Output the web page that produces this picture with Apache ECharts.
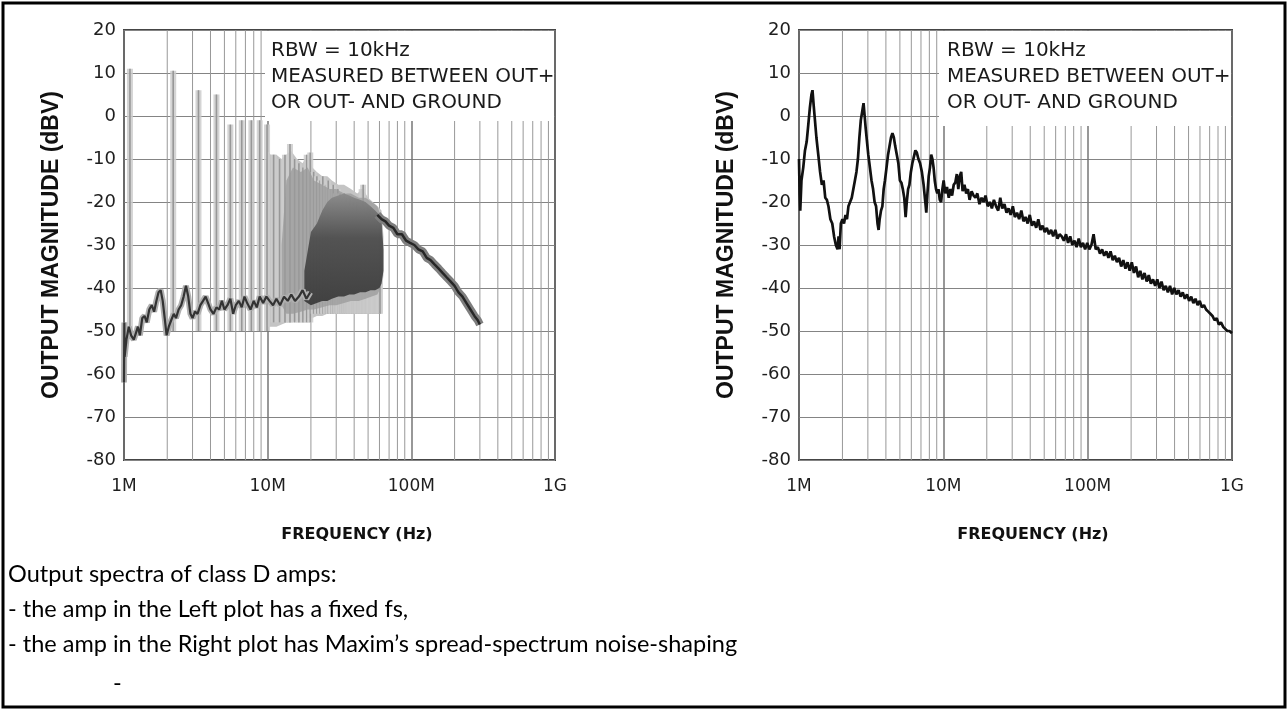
<!DOCTYPE html>
<html>
<head>
<meta charset="utf-8">
<script src="https://cdn.jsdelivr.net/npm/echarts@6.0.0/dist/echarts.min.js"></script>
<style>
  html, body { margin: 0; padding: 0; background: #fff; }
  #main { width: 1288px; height: 711px; }
</style>
</head>
<body>
<div id="main"></div>
<script>
// ---- axis ticks / labels ----
const freqTicks = [1, 10, 100, 1000];            // MHz
const freqTickLabels = ['1M', '10M', '100M', '1G'];
const minorGridMHz = [2, 3, 4, 5, 6, 7, 8, 9, 20, 30, 40, 50, 60, 70, 80, 90,
                      200, 300, 400, 500, 600, 700, 800, 900];
const dbMin = -80, dbMax = 20;

// ---- left plot (fixed fs): harmonics [MHz, peak dBV, foot dBV] ----
const harmonics = [
  [1.1, 11, -50], [2.2, 10.5, -50], [3.3, 6, -50], [4.4, 5, -50], [5.5, -2, -50],
  [6.6, -1, -50], [7.7, -1, -50], [8.8, -1, -50], [9.9, -2, -50],
  [11, -9, -48], [12.1, -10, -48], [13.2, -9, -48], [14.3, -6.5, -48], [15.4, -10, -48],
  [16.5, -11, -48], [17.6, -12, -48], [18.7, -9, -48], [19.8, -8.5, -48],
  [20.9, -13, -46], [22, -14, -46], [23.1, -15, -46], [24.2, -14, -46], [25.3, -16, -46],
  [26.4, -15, -46], [27.5, -17, -46], [28.6, -16, -46], [29.7, -18, -46], [30.8, -17, -46],
  [31.9, -18, -46], [33, -19, -46], [34.1, -18, -46], [35.2, -19, -46], [36.3, -20, -46],
  [37.4, -19, -46], [38.5, -21, -46], [39.6, -20, -46], [40.7, -21, -46], [41.8, -20, -46],
  [42.9, -22, -46], [44, -21, -46], [45.1, -17, -46], [46.2, -16, -46], [47.3, -21, -46],
  [48.4, -22, -46], [49.5, -21, -46], [50.6, -23, -46], [51.7, -22, -46], [52.8, -23, -46],
  [53.9, -24, -46], [55, -23, -46], [56.1, -24, -46], [57.2, -25, -46], [58.3, -24, -46],
  [59.4, -26, -46], [60.5, -25, -46]
];

// shaded masses [MHz, top dBV, bottom dBV]
const lightMass = [
  [9.7, -22, -47], [9.9, -8, -49], [10.5, -9, -49], [11.5, -9, -49], [12.5, -10, -48.5],
  [13.5, -9, -48], [14.5, -8, -48], [16, -10, -47.5], [17.5, -11, -47.5], [19, -9, -47],
  [20.5, -12, -47], [22, -13, -46.5], [24, -14, -46.5], [26, -14, -46], [28, -15, -46],
  [31, -16, -45.5], [34, -16, -45.5], [38, -17, -45], [42, -18, -45], [46, -17, -44.5],
  [50, -19, -44], [54, -20, -43.5], [58, -21, -43], [62, -22, -41], [64, -28, -37]
];
const midMass = [
  [12.5, -30, -44], [13.5, -15, -46], [15, -12, -46], [17, -13, -45.5], [19, -12, -45],
  [21, -15, -45], [24, -16, -44.5], [27, -17, -44], [30, -17, -44], [34, -18, -43.5],
  [38, -18, -43], [43, -19, -43], [48, -19, -42.5], [53, -20, -42], [58, -21, -41.5],
  [61, -23, -40], [63, -30, -37]
];
const darkMass = [
  [18, -36, -43], [20, -27, -44], [22, -25, -43.5], [24, -22, -43], [26, -20, -43],
  [28, -19, -42.5], [31, -18.5, -42], [34, -18, -42], [37, -18.5, -41.5], [40, -19, -41.5],
  [44, -19.5, -41], [48, -20, -41], [52, -21, -40.5], [56, -22, -40.5], [60, -23, -40],
  [62, -24, -39], [64, -31, -36]
];

// noise floor under the harmonics [MHz, dBV]
const noiseFloor = [
  [1.0, -62], [1.005, -48], [1.01, -56], [1.04, -52], [1.08, -49], [1.12, -51], [1.17, -52],
  [1.21, -50.5], [1.25, -49], [1.29, -51], [1.34, -47], [1.39, -46.5], [1.44, -48], [1.5, -45],
  [1.56, -44], [1.62, -45.5], [1.68, -43], [1.74, -41], [1.8, -40.5], [1.86, -43], [1.92, -47],
  [1.98, -51], [2.05, -49], [2.13, -47.5], [2.22, -46], [2.3, -47], [2.4, -45], [2.5, -44],
  [2.6, -42], [2.7, -39.5], [2.8, -42], [2.9, -46], [3.0, -47], [3.12, -45.5], [3.25, -46],
  [3.4, -44], [3.55, -43], [3.7, -42], [3.85, -43.5], [4.0, -45], [4.2, -46], [4.4, -44.5],
  [4.6, -45], [4.8, -43], [5.0, -45], [5.25, -44], [5.5, -42.5], [5.75, -46], [6.0, -44],
  [6.3, -43], [6.6, -44.5], [6.9, -42], [7.2, -43.5], [7.6, -45], [8.0, -43], [8.4, -44.5],
  [8.8, -42], [9.3, -43.5], [9.8, -42], [10.3, -43], [10.9, -44], [11.5, -42.5], [12.2, -44],
  [13.0, -42], [13.8, -43], [14.6, -41.5], [15.5, -43], [16.5, -42], [17.5, -40.5], [18.6, -42.5],
  [19.8, -41]
];

// roll-off above the switching harmonics [MHz, dBV]
const hfBand = [
  [58, -23], [62, -24], [66, -24.5], [70, -25.5], [75, -26], [80, -27.5], [86, -27.5],
  [92, -29], [98, -29.5], [105, -30], [112, -31], [120, -31.5], [128, -33], [136, -33.5],
  [145, -34.5], [155, -35.5], [165, -36.5], [176, -37.5], [188, -38.5], [200, -39.5],
  [213, -41], [227, -42], [242, -43.5], [258, -45], [275, -46.5], [290, -47.5], [300, -48.5]
];

// ---- right plot (spread spectrum) [MHz, dBV] ----
const spreadTrace = [
  [1.00, -10], [1.01, -18], [1.02, -22], [1.04, -15], [1.07, -12], [1.10, -8], [1.13, -6],
  [1.16, -2], [1.19, 2], [1.22, 5], [1.24, 6], [1.26, 3], [1.29, -1], [1.32, -5], [1.36, -9],
  [1.40, -13], [1.44, -16], [1.48, -15], [1.52, -19], [1.56, -19.5], [1.60, -21], [1.65, -24],
  [1.70, -25], [1.75, -28], [1.80, -30], [1.85, -31], [1.88, -28], [1.91, -31], [1.95, -25],
  [2.00, -24], [2.05, -25], [2.10, -23], [2.15, -24], [2.20, -21], [2.26, -21], [2.32, -19],
  [2.38, -17], [2.44, -15], [2.50, -13], [2.56, -10], [2.62, -5], [2.68, -1], [2.74, 1],
  [2.80, 3], [2.85, 0], [2.90, -3], [2.96, -6], [3.02, -9], [3.10, -12], [3.18, -15],
  [3.26, -17], [3.34, -20], [3.42, -21], [3.50, -25], [3.56, -26.5], [3.62, -24], [3.70, -22],
  [3.78, -21], [3.86, -17], [3.94, -15], [4.04, -12], [4.14, -9], [4.24, -7], [4.34, -5],
  [4.44, -4], [4.54, -5], [4.64, -7], [4.76, -9], [4.88, -11], [5.00, -15], [5.12, -15.5],
  [5.24, -17], [5.36, -19], [5.48, -23.5], [5.58, -20], [5.70, -17], [5.82, -16], [5.96, -13],
  [6.10, -11], [6.25, -9.5], [6.40, -8], [6.55, -8.5], [6.72, -10], [6.90, -11], [7.10, -13],
  [7.30, -16], [7.50, -20], [7.62, -22.5], [7.76, -18], [7.92, -14], [8.08, -12], [8.24, -9],
  [8.40, -10], [8.56, -12], [8.72, -15], [8.90, -17], [9.08, -18], [9.25, -17], [9.45, -19.5],
  [9.65, -20], [9.85, -17], [10.05, -15],
  [10.3, -18], [10.6, -16.5], [10.9, -19], [11.2, -17], [11.5, -18.5], [11.8, -16], [12.1, -15.5],
  [12.4, -13.5], [12.7, -17], [13.0, -14], [13.3, -13], [13.6, -17.5], [14.0, -16], [14.4, -18],
  [14.8, -17], [15.2, -19.5], [15.7, -17.5], [16.2, -18.5], [16.7, -19], [17.2, -18], [17.8, -20.5],
  [18.4, -19], [19.0, -20], [19.6, -18.5], [20.3, -21], [21.0, -20], [21.7, -21.5], [22.4, -19.5],
  [23.2, -21], [24.0, -22], [24.8, -19], [25.6, -21.5], [26.5, -20.5], [27.4, -22.5], [28.3, -21.5],
  [29.3, -23], [30.3, -21], [31.3, -23.5], [32.4, -22.5], [33.5, -24], [34.7, -22], [35.9, -24.5],
  [37.1, -23.5], [38.4, -25], [39.7, -23], [41.1, -25.5], [42.5, -24.5], [44.0, -26], [45.5, -24],
  [47.1, -26.5], [48.7, -25.5], [50.4, -27], [52.1, -26], [53.9, -27.5], [55.8, -26.5], [57.7, -28],
  [59.7, -26.5], [61.8, -28.5], [63.9, -27.5], [66.1, -28], [68.4, -29], [70.8, -27.5], [73.2, -29.5],
  [75.7, -28], [78.3, -30], [81.0, -29], [83.8, -30.5], [86.7, -28.5], [89.7, -30.5], [92.8, -29.5],
  [96.0, -31], [99.3, -29.5], [102.7, -31], [106.2, -30], [109.9, -27.5], [113.7, -31], [117.6, -30.5],
  [121.7, -32], [125.9, -31], [130.2, -32.5], [134.7, -31.5], [139.3, -33], [144.1, -31.5],
  [149.1, -33.5], [154.2, -32.5], [159.5, -34], [165.0, -33], [170.7, -35], [176.6, -33.5],
  [182.7, -35.5], [189.0, -34], [195.5, -36], [202.2, -34], [209.2, -36.5], [216.4, -35],
  [223.8, -37.5], [231.5, -36], [239.5, -38], [247.8, -36.5], [256.3, -38.5], [265.1, -37],
  [274.2, -39], [283.7, -38], [293.5, -39.5], [303.6, -38], [314.0, -40], [324.8, -38.5],
  [336.0, -40.5], [347.6, -39.5], [359.6, -41], [372.0, -39.5], [384.8, -41.5], [398.0, -40],
  [411.7, -41.5], [425.9, -40.5], [440.6, -42], [455.8, -41], [471.5, -42.5], [487.7, -41.5],
  [504.5, -43], [521.9, -42], [539.9, -43.5], [558.5, -42.5], [577.8, -44], [597.7, -43],
  [618.3, -44.5], [639.6, -44], [661.6, -45], [684.4, -45.5], [708.0, -46], [732.4, -46.5],
  [757.6, -47.5], [783.7, -47], [810.7, -48.5], [838.6, -48], [867.5, -49], [897.4, -49.5],
  [928.3, -50], [960.3, -50], [1000, -50.5]
];

// ---- texts ----
const yTitle = 'OUTPUT MAGNITUDE (dBV)';
const xTitle = 'FREQUENCY (Hz)';
const noteLines = ['RBW = 10kHz', 'MEASURED BETWEEN OUT+', 'OR OUT- AND GROUND'];
const captionLines = [
  'Output spectra of class D amps:',
  '- the amp in the Left plot has a fixed fs,',
  '- the amp in the Right plot has Maxim\u2019s spread-spectrum noise-shaping'
];

// ---- layout ----
const panels = [
  { left: 124, top: 30, width: 431, height: 430, noteBox: [265, 31, 289, 90], noteX: 271 },
  { left: 799, top: 30, width: 433, height: 430, noteBox: [939, 31, 292, 95], noteX: 947 }
];
const tickFont = 'DejaVu Sans';
const titleFont = 'Liberation Sans';

const chart = echarts.init(document.getElementById('main'));

function xAxisFor(i) {
  return {
    type: 'log', logBase: 10, gridIndex: i, min: 1, max: 1000,
    axisLine: { show: false }, axisTick: { show: false },
    axisLabel: {
      margin: 18, fontFamily: tickFont, fontSize: 17, color: '#1e1e1e',
      formatter: v => {
        const k = freqTicks.findIndex(t => Math.abs(t - v) / t < 1e-6);
        return k >= 0 ? freqTickLabels[k] : '';
      }
    },
    splitLine: { show: true, lineStyle: { color: '#767676', width: 1.5 } },
    name: xTitle, nameLocation: 'middle', nameGap: 67,
    nameTextStyle: { fontFamily: tickFont, fontWeight: 'bold', fontSize: 16, color: '#111',
                     padding: [0, 0, 0, 35] }
  };
}
function yAxisFor(i) {
  return {
    type: 'value', gridIndex: i, min: dbMin, max: dbMax, interval: 10,
    axisLine: { show: false }, axisTick: { show: false },
    axisLabel: { margin: 8, fontFamily: tickFont, fontSize: 18, color: '#1e1e1e' },
    splitLine: { show: true, lineStyle: { color: '#848484', width: 1 } },
    name: yTitle, nameLocation: 'middle', nameGap: 61, nameRotate: 90,
    nameTextStyle: { fontFamily: titleFont, fontWeight: 'bold', fontSize: 23, color: '#111' }
  };
}

function minorGridSeries(i) {
  return {
    type: 'custom', xAxisIndex: i, yAxisIndex: i, z: 1, silent: true,
    data: minorGridMHz.map(v => [v, dbMax]),
    encode: { x: 0, y: 1 },
    renderItem: (params, api) => {
      const a = api.coord([api.value(0), dbMax]);
      const b = api.coord([api.value(0), dbMin]);
      return { type: 'line', shape: { x1: a[0], y1: a[1], x2: b[0], y2: b[1] },
               style: { stroke: '#989898', lineWidth: 1 } };
    }
  };
}

function massSeries(points, fill, z, opacity) {
  return {
    type: 'custom', xAxisIndex: 0, yAxisIndex: 0, z: z, silent: true,
    data: [[points[0][0], points[0][1]]],
    encode: { x: 0, y: 1 },
    renderItem: (params, api) => {
      const upper = points.map(p => api.coord([p[0], p[1]]));
      const lower = points.slice().reverse().map(p => api.coord([p[0], p[2]]));
      return { type: 'polygon', shape: { points: upper.concat(lower) },
               style: { fill: fill, opacity: opacity } };
    }
  };
}

const series = [
  minorGridSeries(0),
  minorGridSeries(1),
  massSeries(lightMass, '#c4c4c4', 2, 1),
  {
    type: 'custom', xAxisIndex: 0, yAxisIndex: 0, z: 3, silent: true,
    data: harmonics,
    encode: { x: 0, y: [1, 2] },
    renderItem: (params, api) => {
      const top = api.coord([api.value(0), api.value(1)]);
      const foot = api.coord([api.value(0), api.value(2)]);
      const h = foot[1] - top[1];
      return { type: 'group', children: [
        { type: 'rect', shape: { x: top[0] - 3, y: top[1], width: 6, height: h }, style: { fill: '#cdcdcd', opacity: 0.85 } },
        { type: 'rect', shape: { x: top[0] - 0.8, y: top[1], width: 1.6, height: h }, style: { fill: '#979797' } }
      ]};
    }
  },
  massSeries(midMass, '#9a9a9a', 4, 0.75),
  massSeries(darkMass, new echarts.graphic.LinearGradient(0, 0, 0, 1, [
    { offset: 0, color: '#8a8a8a' }, { offset: 0.4, color: '#4c4c4c' },
    { offset: 1, color: '#383838' }
  ]), 5, 0.92),
  {
    type: 'line', xAxisIndex: 0, yAxisIndex: 0, z: 6, silent: true, showSymbol: false,
    data: noiseFloor, lineStyle: { color: '#b0b0b0', width: 6 }
  },
  {
    type: 'line', xAxisIndex: 0, yAxisIndex: 0, z: 7, silent: true, showSymbol: false,
    data: noiseFloor, lineStyle: { color: '#333', width: 2.2 }
  },
  {
    type: 'line', xAxisIndex: 0, yAxisIndex: 0, z: 6, silent: true, showSymbol: false,
    data: hfBand, lineStyle: { color: '#7e7e7e', width: 8 }
  },
  {
    type: 'line', xAxisIndex: 0, yAxisIndex: 0, z: 7, silent: true, showSymbol: false,
    data: hfBand, lineStyle: { color: '#262626', width: 2.5 }
  },
  {
    type: 'line', xAxisIndex: 1, yAxisIndex: 1, z: 7, silent: true, showSymbol: false,
    data: spreadTrace, lineStyle: { color: '#111', width: 2.7 }
  }
];

const graphic = [
  { type: 'rect', z: 20, shape: { x: 3, y: 3, width: 1282, height: 704 },
    style: { fill: 'none', stroke: '#000', lineWidth: 3 } }
];
panels.forEach(p => {
  const b = p.noteBox;
  graphic.push({ type: 'rect', z: 1.5, shape: { x: b[0], y: b[1], width: b[2], height: b[3] },
                 style: { fill: '#fff' } });
  noteLines.forEach((t, k) => graphic.push({
    type: 'text', z: 20, x: p.noteX, y: 51 + k * 26,
    style: { text: t, fontFamily: tickFont, fontSize: 20, fill: '#1a1a1a', align: 'left', verticalAlign: 'middle' }
  }));
});
captionLines.forEach((t, k) => graphic.push({
  type: 'text', z: 20, x: 8, y: 574 + k * 35,
  style: { text: t, fontFamily: 'Lato', fontSize: 23.5, fill: '#000', align: 'left', verticalAlign: 'middle' }
}));
graphic.push({
  type: 'text', z: 20, x: 113, y: 683,
  style: { text: '-', fontFamily: 'Lato', fontSize: 23.5, fill: '#000', align: 'left', verticalAlign: 'middle' }
});

chart.setOption({
  animation: false,
  backgroundColor: '#fff',
  grid: panels.map(p => ({
    left: p.left, top: p.top, width: p.width, height: p.height,
    show: true, borderColor: '#454545', borderWidth: 2, backgroundColor: 'transparent'
  })),
  xAxis: [xAxisFor(0), xAxisFor(1)],
  yAxis: [yAxisFor(0), yAxisFor(1)],
  series: series,
  graphic: graphic
});
</script>
</body>
</html>
